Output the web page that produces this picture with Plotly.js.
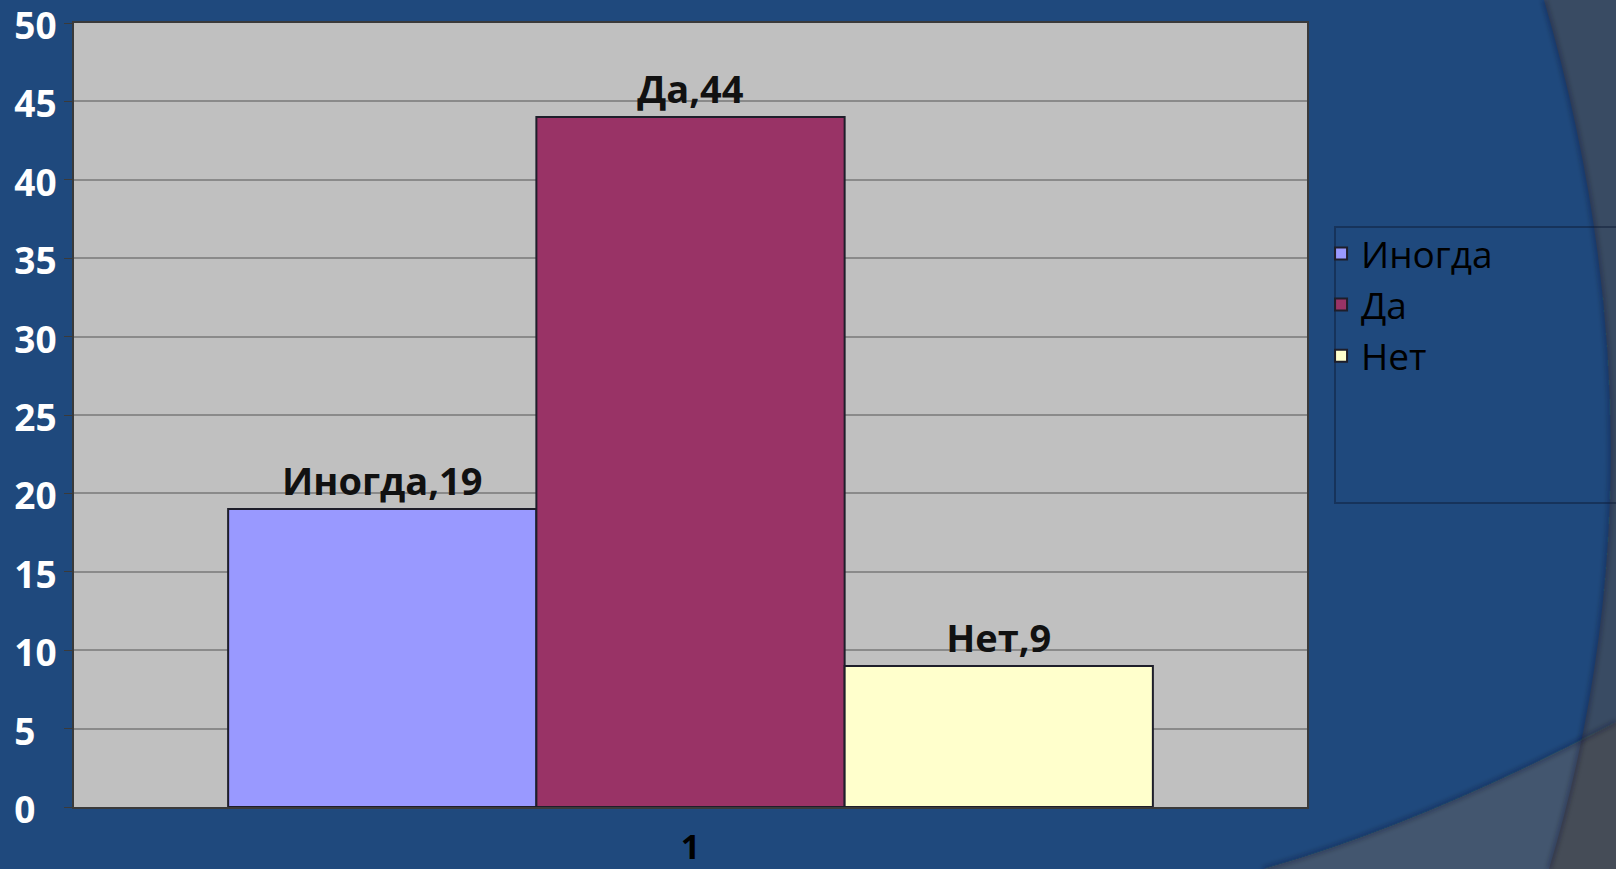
<!DOCTYPE html>
<html>
<head>
<meta charset="utf-8">
<script src="https://cdn.plot.ly/plotly-3.0.1.min.js"></script>
<style>
  html, body { margin: 0; padding: 0; width: 1616px; height: 869px; overflow: hidden; background: #1F497D; }
  #bg { position: absolute; left: 0; top: 0; width: 1616px; height: 869px; }
  #chart { position: absolute; left: 0; top: 0; width: 1616px; height: 869px; }
</style>
</head>
<body>
<svg id="bg" width="1616" height="869" viewBox="0 0 1616 869" xmlns="http://www.w3.org/2000/svg">
  <defs>
    <filter id="soft" x="-10%" y="-10%" width="120%" height="120%">
      <feGaussianBlur stdDeviation="2.5"/>
    </filter>
    <clipPath id="arcClip">
      <path d="M1544 0 Q1675 450 1549 869 L1616 869 L1616 0 Z"/>
    </clipPath>
  </defs>
  <rect x="0" y="0" width="1616" height="869" fill="#1F497D"/>
  <path d="M1544 0 Q1675 450 1549 869 L1616 869 L1616 0 Z" fill="#394B63"/>
  <path d="M1263 869 Q1420 825 1616 722 L1616 869 Z" fill="#43566F"/>
  <g clip-path="url(#arcClip)">
    <path d="M1263 869 Q1420 825 1616 722 L1616 869 Z" fill="#454C57"/>
  </g>
  <path d="M1544 0 Q1675 450 1549 869" fill="none" stroke="rgba(10,20,40,0.35)" stroke-width="4" filter="url(#soft)"/>
  <path d="M1263 869 Q1420 825 1616 722" fill="none" stroke="rgba(10,20,40,0.35)" stroke-width="4" filter="url(#soft)"/>
  <rect x="1335" y="227" width="300" height="276" fill="none" stroke="rgba(10,25,50,0.45)" stroke-width="2"/>
</svg>
<div id="chart"></div>
<script>
// ---- data ----
const categories = ['1'];
const seriesNames = ['Иногда', 'Да', 'Нет'];
const valuesSometimes = [19];
const valuesYes = [44];
const valuesNo = [9];
const yTickValues = [0, 5, 10, 15, 20, 25, 30, 35, 40, 45, 50];
const yTickLabels = ['0\u2007', '5\u2007', '10', '15', '20', '25', '30', '35', '40', '45', '50'];

const seriesValues = [valuesSometimes, valuesYes, valuesNo];
const seriesColors = ['#9999FF', '#993366', '#FFFFCC'];

const traces = seriesNames.map(function (name, i) {
  return {
    type: 'bar',
    name: name,
    legendgroup: 'g' + i,
    x: categories,
    y: seriesValues[i],
    text: seriesValues[i].map(function (v) { return name + ',' + v; }),
    textposition: 'outside',
    cliponaxis: false,
    textfont: { family: 'Open Sans, sans-serif', size: 38, color: '#111111', weight: 700 },
    marker: { color: seriesColors[i], line: { color: '#1e1e2a', width: 2 } },
    hoverinfo: 'none'
  };
});

const layout = {
  width: 1616,
  height: 869,
  margin: { l: 74, r: 309, t: 23, b: 62, pad: 0 },
  paper_bgcolor: 'rgba(0,0,0,0)',
  plot_bgcolor: '#C0C0C0',
  barmode: 'group',
  bargap: 0.25,
  bargroupgap: 0,
  showlegend: true,
  legend: {
    x: 1.0114, xanchor: 'left',
    y: 0.745, yanchor: 'top',
    bgcolor: 'rgba(0,0,0,0)',
    borderwidth: 0,
    font: { family: 'Open Sans, sans-serif', size: 37, color: '#000000' },
    traceorder: 'normal',
    tracegroupgap: 3
  },
  xaxis: {
    type: 'category',
    showgrid: false,
    showline: true,
    linecolor: '#3a3a3a',
    linewidth: 2,
    mirror: true,
    ticks: '',
    ticklabelstandoff: 9,
    ticklabeloverflow: 'allow',
    tickfont: { family: 'Open Sans, sans-serif', size: 34, color: '#000000', weight: 700 },
    fixedrange: true,
    zeroline: false
  },
  yaxis: {
    range: [0, 50],
    tickmode: 'array',
    tickvals: yTickValues,
    ticktext: yTickLabels,
    ticklabeloverflow: 'allow',
    ticklabelshift: 3,
    showgrid: true,
    gridcolor: '#8A8A8A',
    gridwidth: 2,
    showline: true,
    linecolor: '#3a3a3a',
    linewidth: 2,
    mirror: true,
    ticks: 'outside',
    ticklen: 8,
    tickwidth: 1,
    tickcolor: '#3a3a3a',
    tickfont: { family: 'Open Sans, sans-serif', size: 37, color: '#FFFFFF', weight: 700 },
    zeroline: false,
    fixedrange: true
  }
};

Plotly.newPlot('chart', traces, layout, { displayModeBar: false, staticPlot: true });
</script>
</body>
</html>
